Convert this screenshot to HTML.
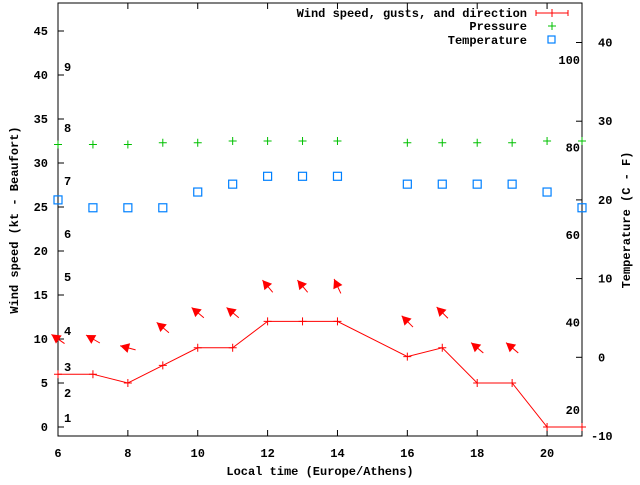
<!DOCTYPE html>
<html><head><meta charset="utf-8"><style>
body{margin:0;background:#fff}
svg text{font-family:"Liberation Mono",monospace;font-weight:bold;font-size:12px;fill:#000}
</style></head><body>
<svg width="640" height="480" xmlns="http://www.w3.org/2000/svg">
<g id="g"></g>
</svg>
<script>
const hours=[6,7,8,9,10,11,12,13,14,16,17,18,19,20,21];
const windSpeed=[6,6,5,7,9,9,12,12,12,8,9,5,5,0,0];
const pressure=[32.1,32.1,32.1,32.3,32.3,32.5,32.5,32.5,32.5,32.3,32.3,32.3,32.3,32.5,32.5];
const temperature=[20,19,19,19,21,22,23,23,23,22,22,22,22,21,19];
const gustHours=[6,7,8,9,10,11,12,13,14,16,17,18,19];
const gusts=[10,10,9,11.3,13,13,16,16,16,12,13,9,9];
const windDir=[305,300,285,310,310,310,320,320,335,315,315,310,310];
const xTicks=[6,8,10,12,14,16,18,20];
const yTicks=[0,5,10,15,20,25,30,35,40,45];
const cTicks=[-10,0,10,20,30,40];
const fTicks=[20,40,60,80,100];
const bft=[[1,418],[2,393],[3,367],[4,331],[5,277],[6,234],[7,181],[8,128],[9,67]];

const X0=58,X1=582,Y0=3,Y1=436;
const xs=h=>X0+(h-6)*(X1-X0)/15;
const ys=v=>427-v*8.8;
const yc=c=>436-(c+10)*7.87;
const yf=f=>yc((f-32)*5/9);
const g=document.getElementById('g');
const NS='http://www.w3.org/2000/svg';
function mk(t,a,txt){const e=document.createElementNS(NS,t);for(const k in a)e.setAttribute(k,a[k]);if(txt!==undefined)e.textContent=txt;g.appendChild(e);return e;}

let e=mk('rect',{x:X0,y:Y0,width:X1-X0,height:Y1-Y0,fill:'none',stroke:'#000','stroke-width':1});


xTicks.forEach(h=>{const x=xs(h);
 mk('line',{x1:x,y1:Y1,x2:x,y2:Y1-6,stroke:'#000'});mk('line',{x1:x,y1:Y0,x2:x,y2:Y0+6,stroke:'#000'});
 e=mk('text',{x:x,y:457,'text-anchor':'middle'},h);
 
 });
yTicks.forEach(v=>{const y=ys(v);mk('line',{x1:X0,y1:y,x2:X0+6,y2:y,stroke:'#000'});
 e=mk('text',{x:48,y:y+4,'text-anchor':'end'},v);
 
 });
cTicks.forEach(v=>{const y=yc(v);mk('line',{x1:X1,y1:y,x2:X1-6,y2:y,stroke:'#000'});
 e=mk('text',{x:v<0?591:598,y:y+4},v);
 
 });
fTicks.forEach(v=>{e=mk('text',{x:580,y:yf(v)+4,'text-anchor':'end'},v);
 
 });
bft.forEach(b=>{e=mk('text',{x:64,y:b[1]+4},b[0]);
 
 });

e=mk('text',{x:320,y:475,'text-anchor':'middle'},'Local time (Europe/Athens)');


e=mk('text',{x:18,y:220,'text-anchor':'middle',transform:'rotate(-90 18 220)'},'Wind speed (kt - Beaufort)');


e=mk('text',{x:630,y:220,'text-anchor':'middle',transform:'rotate(-90 630 220)'},'Temperature (C - F)');



pressure.forEach((p,i)=>{const x=xs(hours[i]),y=ys(p);
 e=mk('path',{d:`M${x-4},${y}h8M${x},${y-4}v8`,stroke:'#00c000','stroke-width':1,fill:'none'});
 
 });
temperature.forEach((t,i)=>{const x=xs(hours[i]),y=yc(t);
 e=mk('rect',{x:x-4,y:y-4,width:8,height:8,fill:'none',stroke:'#0080ff','stroke-width':1.2});
 
 });
e=mk('polyline',{points:hours.map((h,i)=>xs(h)+','+ys(windSpeed[i])).join(' '),fill:'none',stroke:'#f00','stroke-width':1});


windSpeed.forEach((w,i)=>{const x=xs(hours[i]),y=ys(w);
 e=mk('path',{d:`M${x-4},${y}h8M${x},${y-4}v8`,stroke:'#f00',fill:'none'});
 
 });
gusts.forEach((v,i)=>{const cx=xs(gustHours[i]),cy=ys(v);const a=windDir[i]*Math.PI/180;
 const dx=Math.sin(a),dy=-Math.cos(a);const L=8;
 const hx=cx+dx*L,hy=cy+dy*L,tx=cx-dx*L,ty=cy-dy*L;
 const px=-dy,py=dx;
 e=mk('line',{x1:tx,y1:ty,x2:hx,y2:hy,stroke:'#f00','stroke-width':1});
 
 
 e=mk('polygon',{points:`${hx},${hy} ${hx-dx*9+px*5},${hy-dy*9+py*5} ${hx-dx*9-px*5},${hy-dy*9-py*5}`,fill:'#f00'});
 
 });

e=mk('text',{x:527,y:17,'text-anchor':'end'},'Wind speed, gusts, and direction');


mk('path',{d:'M536,13h32M536,10v6M568,10v6M552,9v8',stroke:'#f00',fill:'none'});
e=mk('text',{x:527,y:30,'text-anchor':'end'},'Pressure');


mk('path',{d:'M548,26h8M552,22v8',stroke:'#00c000',fill:'none'});
e=mk('text',{x:527,y:44,'text-anchor':'end'},'Temperature');


mk('rect',{x:548,y:36,width:7,height:7,fill:'none',stroke:'#0080ff','stroke-width':1.2});
</script>
</body></html>
